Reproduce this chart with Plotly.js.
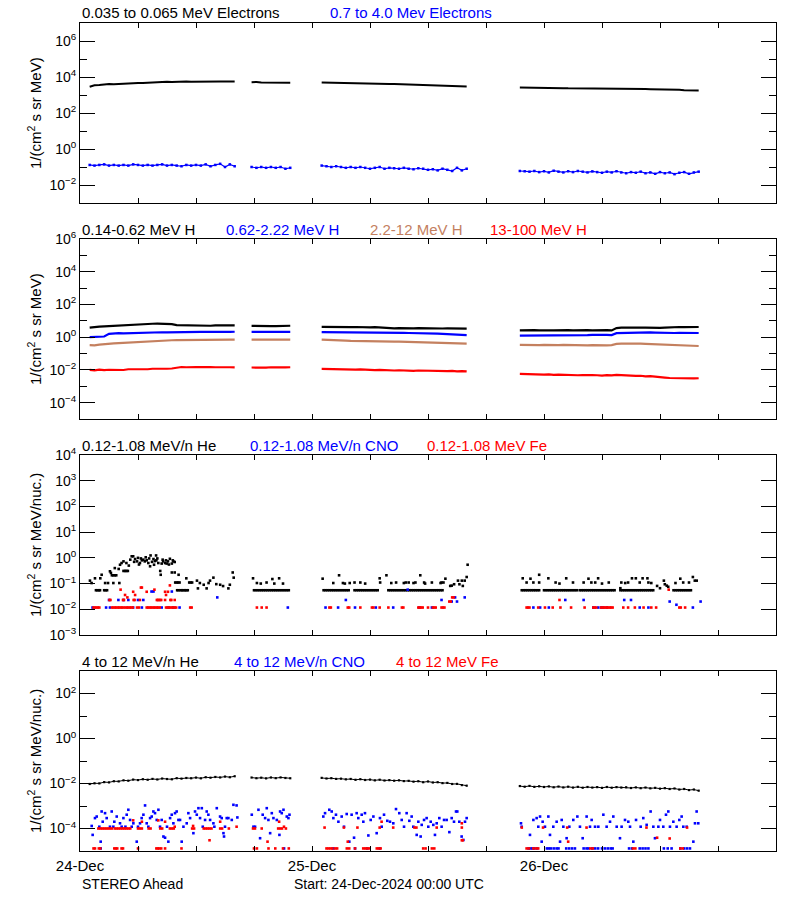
<!DOCTYPE html>
<html><head><meta charset="utf-8">
<script src="https://cdn.plot.ly/plotly-3.0.1.min.js"></script>
<style>html,body{margin:0;padding:0;background:#fff}#chart{width:800px;height:900px}</style>
</head><body><div id="chart"></div>
<script>
// ---------- DATA ----------
// hours since 24-Dec-2024 00:00 UTC (gap entries carry null values)
const hours = [1,1.5,2,2.5,3,3.5,4,4.5,5,5.5,6,6.5,7,7.5,8,8.5,9,9.5,10,10.5,11,11.5,12,12.5,13,13.5,14,14.5,15,15.5,16,
 17,
 17.75,18.25,18.75,19.25,19.75,20.25,20.75,21.25,21.75,
 23,
 25,25.5,26,26.5,27,27.5,28,28.5,29,29.5,30,30.5,31,31.5,32,32.5,33,33.5,34,34.5,35,35.5,36,36.5,37,37.5,38,38.5,39,39.5,40,
 43,
 45.5,46,46.5,47,47.5,48,48.5,49,49.5,50,50.5,51,51.5,52,52.5,53,53.5,54,54.5,55,55.5,56,56.5,57,57.5,58,58.5,59,59.5,60,60.5,61,61.5,62,62.5,63,63.5,64];

// Panel 1: electrons
const eLow = [2900,3500,3600,4000,4100,4000,4200,4300,4500,4600,4700,4600,4800,5000,5200,5300,5400,5300,5500,5400,5600,5500,5600,5700,5600,5700,5600,5700,5600,5700,5600,
 null,
 5100,5300,5000,4900,4900,4800,4800,4900,4800,
 null,
 5000,4900,4800,4900,4700,4600,4500,4500,4400,4300,4300,4200,4200,4100,4100,4100,4000,4000,3900,3800,3700,3500,3500,3400,3400,3300,3300,3200,3200,3100,3000,
 null,
 2600,2600,2550,2550,2500,2500,2450,2450,2400,2400,2350,2350,2300,2300,2300,2250,2250,2250,2200,2200,2250,2200,2200,2150,2150,2150,2150,2100,2100,2100,2050,2000,2000,1950,1850,1800,1800,1800];
const eHigh = [0.13,0.12,0.13,0.14,0.12,0.13,0.12,0.13,0.12,0.14,0.13,0.12,0.13,0.12,0.13,0.14,0.12,0.13,0.12,0.11,0.13,0.12,0.13,0.12,0.14,0.11,0.13,0.15,0.10,0.14,0.11,
 null,
 0.10,0.09,0.10,0.09,0.10,0.09,0.10,0.08,0.09,
 null,
 0.12,0.11,0.10,0.11,0.10,0.09,0.10,0.09,0.10,0.09,0.08,0.09,0.10,0.08,0.09,0.085,0.08,0.09,0.08,0.075,0.085,0.08,0.07,0.075,0.065,0.08,0.07,0.06,0.09,0.065,0.08,
 null,
 0.06,0.058,0.055,0.06,0.052,0.058,0.05,0.062,0.055,0.05,0.058,0.052,0.06,0.055,0.05,0.057,0.052,0.048,0.055,0.05,0.058,0.05,0.045,0.052,0.048,0.055,0.045,0.05,0.042,0.052,0.045,0.05,0.04,0.048,0.052,0.042,0.05,0.055];

// Panel 2: protons
const hLow = [3.8,3.9,4.4,4.6,4.8,5.0,5.3,5.5,5.4,5.7,5.8,6.2,6.5,6.6,6.7,6.5,6.4,6.2,5.4,5.3,5.2,5.3,5.2,5.1,5.2,5.0,5.3,5.2,5.1,5.3,5.2,
 null,
 4.9,5.0,4.8,4.9,4.8,4.7,4.9,4.8,5.0,
 null,
 4.3,4.2,4.3,4.1,4.2,4.0,4.1,4.2,4.0,4.1,4.0,4.1,3.9,3.5,3.6,3.5,3.6,3.5,3.6,3.5,3.6,3.5,3.5,3.4,3.5,3.4,3.5,3.4,3.3,3.4,3.3,
 null,
 2.6,2.7,2.6,2.7,2.6,2.7,2.6,2.6,2.7,2.6,2.7,2.6,2.7,2.6,2.7,2.6,2.7,2.6,2.7,2.6,3.6,3.8,3.9,3.8,3.9,3.8,3.8,3.7,3.8,3.7,3.8,4.0,4.1,4.2,4.1,4.2,4.1,4.2];
const hMid = [1.0,1.0,1.05,1.1,1.6,1.7,1.75,1.7,1.75,1.8,1.75,1.8,1.85,1.9,1.95,2.0,1.95,2.0,2.05,2.0,2.05,2.1,2.05,2.1,2.1,2.05,2.1,2.15,2.1,2.1,2.15,
 null,
 2.1,2.15,2.1,2.1,2.15,2.1,2.1,2.15,2.1,
 null,
 2.05,2.05,2.0,2.05,2.0,2.0,1.95,2.0,1.95,1.95,1.9,1.95,1.9,1.9,1.85,1.9,1.85,1.85,1.8,1.8,1.75,1.8,1.75,1.7,1.65,1.6,1.55,1.5,1.45,1.4,1.35,
 null,
 1.25,1.25,1.3,1.25,1.3,1.3,1.25,1.3,1.3,1.35,1.3,1.35,1.3,1.35,1.35,1.4,1.35,1.4,1.4,1.35,1.75,1.8,1.85,1.9,1.9,1.95,1.9,1.95,1.9,1.85,1.9,1.85,1.8,1.85,1.8,1.8,1.85,1.8];
const hHigh = [0.33,0.32,0.35,0.38,0.40,0.42,0.43,0.45,0.46,0.48,0.50,0.52,0.55,0.58,0.60,0.62,0.64,0.65,0.66,0.67,0.68,0.68,0.69,0.68,0.69,0.70,0.69,0.70,0.69,0.70,0.70,
 null,
 0.70,0.71,0.70,0.72,0.70,0.71,0.70,0.71,0.70,
 null,
 0.71,0.70,0.71,0.70,0.68,0.62,0.60,0.60,0.59,0.60,0.58,0.59,0.58,0.57,0.55,0.54,0.53,0.52,0.52,0.51,0.50,0.49,0.48,0.47,0.46,0.45,0.44,0.43,0.42,0.41,0.40,
 null,
 0.34,0.33,0.34,0.33,0.33,0.34,0.33,0.32,0.33,0.34,0.33,0.32,0.33,0.33,0.32,0.33,0.32,0.33,0.32,0.33,0.39,0.40,0.41,0.40,0.41,0.40,0.39,0.38,0.37,0.36,0.35,0.33,0.31,0.30,0.30,0.29,0.30,0.29];
const hTop = [0.0100,0.0095,0.0105,0.0098,0.0102,0.0100,0.0104,0.0099,0.0110,0.0108,0.0112,0.0115,0.0110,0.0118,0.0115,0.0120,0.0118,0.0122,0.0135,0.0150,0.0145,0.0155,0.0150,0.0148,0.0155,0.0150,0.0145,0.0150,0.0140,0.0145,0.0142,
 null,
 0.0140,0.0135,0.0142,0.0138,0.0145,0.0140,0.0138,0.0142,0.0145,
 null,
 0.0115,0.0112,0.0110,0.0112,0.0108,0.0110,0.0108,0.0105,0.0108,0.0102,0.0100,0.0098,0.0100,0.0095,0.0098,0.0092,0.0095,0.0090,0.0093,0.0088,0.0092,0.0090,0.0088,0.0085,0.0090,0.0086,0.0084,0.0088,0.0082,0.0085,0.0082,
 null,
 0.0058,0.0056,0.0055,0.0057,0.0054,0.0052,0.0054,0.0050,0.0052,0.0050,0.0048,0.0050,0.0047,0.0049,0.0046,0.0048,0.0047,0.0045,0.0048,0.0046,0.0050,0.0047,0.0045,0.0046,0.0043,0.0044,0.0040,0.0042,0.0038,0.0036,0.0034,0.0032,0.0031,0.0030,0.0032,0.0029,0.0030,0.0031];

// Panel 3: 0.12-1.08 MeV/n ions, [hour, value] pairs
const heLow = [[1.03,0.13],[1.2,0.105],[1.55,0.16],[1.65,0.055],[1.8,0.055],[1.95,0.055],[2.07,0.055],[2.1,0.16],[2.24,0.22],[2.5,0.055],[2.6,0.105],[2.65,0.055],[2.8,0.055],[2.9,0.105],
 [3.1,0.3],[3.2,0.26],[3.3,0.21],[3.45,0.21],[3.45,0.105],[3.6,0.21],[3.6,0.4],[3.75,0.21],[4.0,0.37],[4.07,0.105],[4.14,0.54],[4.3,0.63],[4.5,0.73],[4.5,0.31],[4.66,0.31],[4.8,0.31],[4.8,0.63],[4.95,0.31],
 [5.05,0.5],[5.2,0.85],[5.35,1.15],[5.5,1.15],[5.6,0.7],[5.7,0.9],[5.9,0.73],[6.0,1.0],[6.1,0.55],[6.2,0.63],[6.3,0.95],[6.4,0.8],[6.55,0.85],[6.7,0.73],[6.8,1.05],[6.9,0.8],
 [7.07,0.63],[7.15,0.95],[7.25,0.47],[7.3,1.24],[7.45,0.7],[7.6,0.9],[7.66,0.54],[7.75,0.75],[7.87,1.24],[7.9,0.8],[8.0,0.95],[8.1,0.63],[8.3,0.31],[8.35,0.22],[8.45,0.6],[8.55,0.85],[8.6,0.73],[8.8,0.63],[8.9,0.8],[8.97,0.6],
 [9.1,0.73],[9.2,0.55],[9.3,0.92],[9.5,0.6],[9.5,0.27],[9.6,0.8],[9.66,0.73],[9.8,0.69],[9.8,0.27],[9.85,0.11],[10.0,0.11],[10.15,0.11],[10.2,0.22],[10.3,0.11],
 [10.05,0.055],[10.2,0.055],[10.4,0.055],[10.55,0.055],[10.7,0.055],[10.85,0.055],[11.0,0.16],[11.0,0.055],[11.15,0.055],[11.3,0.11],[11.45,0.11],[11.6,0.11],
 [12.1,0.13],[12.2,0.065],[12.4,0.105],[12.8,0.09],[13.1,0.065],[13.3,0.105],[13.45,0.13],[13.8,0.17],[14.1,0.095],[14.5,0.09],[14.8,0.08],[15.35,0.065],[15.5,0.09],[15.8,0.27],[15.9,0.17],
 [17.9,0.16],[18.0,0.055],[18.2,0.055],[18.3,0.105],[18.4,0.055],[18.6,0.055],[18.7,0.1],[18.8,0.055],[19.0,0.055],[19.2,0.055],[19.3,0.11],[19.4,0.055],[19.6,0.055],[19.8,0.055],[19.9,0.15],
 [20.0,0.055],[20.1,0.1],[20.2,0.055],[20.4,0.055],[20.6,0.16],[20.6,0.055],[20.8,0.055],[21.0,0.1],[21.0,0.055],[21.2,0.055],[21.4,0.055],[21.6,0.055],
 [25.2,0.055],[25.4,0.055],[25.6,0.055],[25.8,0.055],[26.0,0.055],[26.2,0.055],[26.4,0.055],[26.6,0.055],[26.8,0.055],[27.0,0.055],[27.2,0.055],[27.4,0.055],[27.6,0.055],[27.8,0.055],
 [28.4,0.055],[28.6,0.055],[28.8,0.055],[29.0,0.055],[29.2,0.055],[29.4,0.055],[29.6,0.055],[29.8,0.055],[30.0,0.055],[30.2,0.055],[30.4,0.055],[30.6,0.055],[30.8,0.055],
 [31.9,0.055],[32.1,0.055],[32.3,0.055],[32.5,0.055],[32.7,0.055],[32.9,0.055],[33.1,0.055],[33.3,0.055],[33.5,0.055],[33.7,0.055],[33.9,0.055],[34.1,0.055],[34.3,0.055],[34.5,0.055],[34.7,0.055],[34.9,0.055],
 [35.1,0.055],[35.3,0.055],[35.5,0.055],[35.7,0.055],[35.9,0.055],[36.1,0.055],[36.3,0.055],[36.5,0.055],[36.7,0.055],[36.9,0.055],[37.1,0.055],[37.3,0.055],[37.5,0.055],
 [25.1,0.155],[26.2,0.105],[26.8,0.21],[27.2,0.105],[27.4,0.1],[27.9,0.105],[28.4,0.11],[29.0,0.11],[29.5,0.1],[31.0,0.16],[31.05,0.11],[31.7,0.21],[32.2,0.105],[32.7,0.11],[33.5,0.105],[33.7,0.11],[34.0,0.11],
 [34.5,0.105],[34.7,0.11],[35.2,0.21],[35.6,0.11],[35.7,0.1],[36.4,0.11],[37.3,0.105],[37.4,0.11],[37.6,0.11],[37.8,0.155],[38.3,0.081],[38.45,0.083],[38.7,0.094],[39.1,0.13],[39.25,0.094],[39.5,0.13],[39.6,0.081],[39.8,0.13],[40.0,0.18],[40.1,0.54],
 [45.7,0.055],[45.9,0.055],[46.1,0.055],[46.3,0.055],[46.5,0.055],[46.7,0.055],[46.9,0.055],[47.1,0.055],[47.3,0.055],[47.5,0.055],[48.0,0.055],[48.2,0.055],[48.4,0.055],[48.6,0.055],[48.8,0.055],[49.0,0.055],[49.2,0.055],[49.4,0.055],[49.6,0.055],[49.8,0.055],
 [50.0,0.055],[50.2,0.055],[50.4,0.055],[50.6,0.055],[50.8,0.055],[51.0,0.055],[51.2,0.055],[51.4,0.055],[51.7,0.055],[51.9,0.055],[52.1,0.055],[52.3,0.055],[52.5,0.055],[52.7,0.055],[52.9,0.055],[53.1,0.055],[53.3,0.055],[53.5,0.055],[53.7,0.055],[53.9,0.055],
 [54.1,0.055],[54.3,0.055],[54.5,0.055],[54.7,0.055],[54.9,0.055],[55.1,0.055],[55.3,0.055],[55.9,0.055],[56.1,0.055],[56.3,0.055],[56.5,0.055],[56.7,0.055],[56.9,0.055],[57.1,0.055],[57.3,0.055],[57.5,0.055],[57.7,0.055],[57.9,0.055],
 [58.1,0.055],[58.3,0.055],[58.5,0.055],[58.7,0.055],[58.9,0.055],[59.1,0.055],[59.3,0.055],[61.4,0.055],[61.6,0.055],[61.8,0.055],[62.0,0.055],[62.2,0.055],[62.4,0.055],[62.6,0.055],[62.8,0.055],[63.0,0.055],[63.2,0.055],
 [45.8,0.16],[46.2,0.11],[46.6,0.155],[46.9,0.11],[47.5,0.22],[47.5,0.11],[48.45,0.16],[49.2,0.11],[49.6,0.1],[50.3,0.16],[51.0,0.11],[52.1,0.11],[52.6,0.155],[52.9,0.11],[53.3,0.11],[53.6,0.16],[54.0,0.1],[54.7,0.11],
 [55.9,0.066],[56.0,0.11],[56.4,0.105],[56.7,0.11],[57.1,0.16],[57.5,0.16],[57.9,0.11],[58.2,0.16],[58.7,0.16],[58.8,0.11],[59.1,0.105],[59.7,0.081],[60.0,0.066],[60.4,0.13],[60.5,0.094],[60.7,0.083],[60.85,0.075],
 [61.6,0.105],[62.1,0.155],[62.4,0.11],[63.0,0.11],[63.4,0.18],[63.6,0.13],[63.8,0.13]];
const cnoLow = [[1.3,0.0117],[2.7,0.0117],[3.0,0.023],[3.1,0.0117],[3.97,0.023],[4.5,0.023],[5.0,0.023],[5.5,0.0117],[6.0,0.023],[6.4,0.0117],[6.55,0.023],[7.4,0.049],[7.6,0.049],[8.45,0.0117],[9.15,0.0117],[9.5,0.049],[9.66,0.0117],[10.3,0.0117],[14.2,0.029],[21.5,0.0117],
 [25.4,0.0117],[26.7,0.0117],[27.5,0.023],[28.45,0.0117],[30.6,0.0117],[32.4,0.0117],[33.9,0.058],[35.1,0.0117],[36.4,0.0117],[37.4,0.023],[38.45,0.02],[38.8,0.029],[39.0,0.02],[39.8,0.029],
 [46.9,0.0117],[47.6,0.0117],[48.5,0.0117],[50.2,0.023],[52.1,0.023],[53.1,0.0117],[53.6,0.0117],[53.9,0.0117],[54.1,0.0117],[54.5,0.0117],[56.3,0.023],[57.0,0.023],[57.9,0.0117],[58.8,0.0117],[61.0,0.02],[61.7,0.015],[63.4,0.0117],[64.2,0.02]];
const feLow = [[1.4,0.0117],[1.55,0.0117],[1.7,0.0117],[1.85,0.0117],[2.0,0.0117],[3.3,0.0117],[3.45,0.0117],[3.6,0.0117],[3.75,0.0117],[3.9,0.0117],[4.05,0.0117],[4.2,0.0117],[4.35,0.0117],[4.5,0.0117],
 [4.7,0.0117],[4.85,0.0117],[5.0,0.0117],[5.15,0.0117],[5.3,0.0117],[5.45,0.0117],[5.9,0.0117],[6.1,0.0117],[6.9,0.0117],[7.05,0.0117],[7.2,0.0117],[7.35,0.0117],[7.5,0.0117],[7.65,0.0117],[7.8,0.0117],[7.95,0.0117],[8.1,0.0117],[8.25,0.0117],
 [8.9,0.0117],[9.05,0.0117],[9.2,0.0117],[9.35,0.0117],[9.5,0.0117],[9.65,0.0117],[9.8,0.0117],[9.95,0.0117],[11.4,0.0117],[11.55,0.0117],[18.3,0.0117],[18.8,0.0117],[19.3,0.0117],
 [3.05,0.023],[3.15,0.023],[4.45,0.023],[4.55,0.023],[5.55,0.023],[5.65,0.023],[6.2,0.023],[7.95,0.023],[8.05,0.023],[8.15,0.023],[8.3,0.023],[8.4,0.023],[8.8,0.023],[9.35,0.023],[9.45,0.023],[9.8,0.023],
 [4.66,0.036],[5.7,0.036],[8.9,0.036],[4.9,0.029],[5.5,0.048],[6.9,0.048],[8.8,0.048],[9.1,0.048],[4.2,0.058],[7.7,0.058],[6.3,0.07],[6.4,0.07],[9.3,0.085],
 [25.8,0.0117],[25.95,0.0117],[27.7,0.0117],[27.85,0.0117],[29.0,0.0117],[30.2,0.0117],[30.35,0.0117],[31.0,0.0117],[31.9,0.0117],[33.3,0.0117],[33.45,0.0117],[35.0,0.0117],[35.15,0.0117],[35.3,0.0117],[35.45,0.0117],
 [36.0,0.0117],[36.5,0.0117],[36.65,0.0117],[36.8,0.0117],[37.4,0.0117],[37.55,0.0117],[37.7,0.0117],[38.2,0.02],[38.35,0.02],[38.5,0.029],[38.65,0.029],
 [46.2,0.0117],[46.35,0.0117],[46.5,0.0117],[47.4,0.0117],[48.1,0.0117],[48.9,0.0117],[49.7,0.0117],[50.8,0.0117],[52.2,0.0117],[53.1,0.0117],[53.25,0.0117],[53.4,0.0117],[53.9,0.0117],[54.05,0.0117],[54.2,0.0117],
 [54.35,0.0117],[54.5,0.0117],[54.65,0.0117],[54.8,0.0117],[54.95,0.0117],[55.1,0.0117],[56.2,0.0117],[56.7,0.0117],[57.4,0.0117],[58.3,0.0117],[59.1,0.0117],[59.6,0.0117],[62.0,0.0117],[62.15,0.0117],[62.6,0.0117],
 [49.6,0.023],[60.9,0.058]];

// Panel 4: 4-12 MeV/n ions
const heHigh = [0.0095,0.0102,0.0101,0.0115,0.0112,0.0126,0.0124,0.0138,0.0133,0.0149,0.0142,0.0155,0.0147,0.0160,0.0151,0.0166,0.0158,0.0154,0.0172,0.0165,0.0176,0.0171,0.0183,0.0170,0.0190,0.0181,0.0195,0.0186,0.0203,0.0190,0.0210,
 null,
 0.0184,0.0172,0.0181,0.0169,0.0185,0.0173,0.0186,0.0176,0.0171,
 null,
 0.0178,0.0167,0.0172,0.0160,0.0164,0.0153,0.0159,0.0146,0.0155,0.0143,0.0149,0.0138,0.0147,0.0136,0.0141,0.0133,0.0138,0.0128,0.0131,0.0121,0.0126,0.0114,0.0123,0.0111,0.0114,0.0104,0.0106,0.0095,0.0096,0.0085,0.0080,
 null,
 0.0077,0.0072,0.0078,0.0071,0.0075,0.0070,0.0074,0.0068,0.0073,0.0067,0.0072,0.0066,0.0071,0.0065,0.0070,0.0066,0.0069,0.0064,0.0070,0.0065,0.0069,0.0066,0.0068,0.0063,0.0067,0.0062,0.0066,0.0061,0.0064,0.0059,0.0062,0.0057,0.0060,0.0054,0.0057,0.0051,0.0054,0.0048];
const cnoHigh = [[1.21,1.3e-4],[1.31,5.2e-5],[1.55,2.9e-4],[1.73,3.4e-4],[2.0,1.2e-4],[2.14,2.6e-5],[2.14,1.3e-5],[2.24,5.7e-4],[2.35,2.0e-4],[2.59,4.8e-4],[2.76,2.9e-4],[3.1,1.2e-4],[3.28,5.7e-4],[3.45,1.2e-4],[3.55,2.0e-4],[3.8,3.4e-4],
 [4.14,1.7e-4],[4.31,1.2e-4],[4.49,2.9e-4],[4.7,1.2e-4],[4.83,4.1e-4],[5.0,6.8e-4],[5.18,2.4e-4],[5.35,1.2e-4],[5.52,1.7e-4],[5.87,2.6e-5],[6.0,1.2e-4],[6.21,1.7e-4],[6.38,2.9e-4],[6.56,4.1e-4],[6.73,1.06e-3],[6.9,1.7e-4],
 [7.07,1.2e-4],[7.25,2.9e-4],[7.42,3.4e-4],[7.59,5.7e-4],[7.76,4.8e-4],[7.94,2.4e-4],[8.11,6.8e-4],[8.28,1.2e-4],[8.45,2.4e-4],[8.63,4.4e-5],[8.8,3.9e-5],[9.0,1.2e-4],[9.14,2.6e-5],[9.32,2.9e-4],[9.49,4.1e-4],[9.66,1.7e-4],[9.83,4.8e-4],
 [10.0,5.7e-4],[10.18,2.4e-4],[10.35,2.4e-4],[10.52,2.6e-5],[10.7,1.2e-4],[11.04,1.7e-4],[11.21,4.8e-4],[11.39,2.9e-4],[11.73,6.2e-5],[11.9,5.7e-4],[12.08,4.1e-4],[12.25,8.0e-4],[12.42,2.9e-4],[12.6,8.0e-4],[12.7,1.2e-4],[12.94,2.4e-4],
 [13.11,5.7e-4],[13.28,4.1e-4],[13.46,2.4e-4],[13.8,1.7e-4],[13.9,1.2e-4],[14.15,8.0e-4],[14.49,3.4e-4],[14.66,2.9e-4],[14.84,6.2e-5],[14.9,4.4e-5],[15.0,1.2e-4],[15.18,2.9e-4],[15.35,2.9e-4],[15.7,2.4e-4],[15.87,1.13e-3],[16.2,1.06e-3],[16.28,3.1e-4],
 [17.77,4.1e-4],[17.94,1.2e-4],[18.11,1.2e-4],[18.46,6.8e-4],[18.63,3.7e-5],[18.9,4.1e-4],[19.15,2.9e-4],[19.32,8.0e-4],[19.49,2.4e-4],[19.67,6.2e-5],[19.84,4.8e-4],[20.01,2.9e-4],[20.36,2.4e-4],[20.63,5.2e-5],[20.7,5.7e-4],[20.87,4.8e-4],
 [21.05,6.8e-4],[21.11,1.3e-5],[21.39,3.4e-4],[21.56,2.9e-4],[21.67,4.1e-4],
 [25.17,3.4e-4],[25.35,4.8e-4],[25.79,6.8e-4],[26.04,5.7e-4],[26.21,2.9e-4],[26.21,1.3e-5],[26.48,4.1e-4],[26.73,2.0e-4],[27.07,3.4e-4],[27.31,1.2e-4],[27.59,4.4e-4],[27.86,2.6e-5],[28.1,4.1e-4],[28.35,3.9e-5],[28.45,1.3e-5],[28.62,4.8e-4],
 [28.79,2.9e-4],[29.14,4.1e-4],[29.31,2.0e-4],[29.48,4.8e-4],[29.7,1.3e-5],[29.83,4.9e-5],[30.07,2.4e-4],[30.35,3.4e-4],[30.69,6.2e-5],[31.0,1.3e-5],[31.03,2.9e-4],[31.21,1.2e-4],[31.45,4.1e-4],[31.79,2.2e-4],[32.07,2.0e-4],[32.41,1.7e-4],
 [32.69,7.3e-4],[33.03,4.8e-4],[33.28,2.4e-4],[33.52,1.2e-4],[33.79,4.8e-4],[34.07,2.2e-4],[34.31,3.4e-4],[34.48,1.2e-4],[34.83,5.2e-5],[35.0,2.0e-4],[35.24,4.4e-5],[35.35,1.45e-4],[35.59,2.4e-4],[35.86,2.9e-4],[36.03,1.2e-4],[36.28,2.0e-4],
 [36.55,1.45e-4],[36.72,5.2e-5],[36.9,1.7e-4],[37.17,2.9e-4],[37.41,1.2e-4],[37.66,2.4e-4],[37.93,2.4e-4],[38.21,6.9e-5],[38.45,2.9e-4],[38.69,2.0e-4],[38.9,5.7e-4],[39.03,5.7e-4],[39.24,2.0e-4],[39.48,4.4e-5],[39.66,3.1e-5],[39.83,2.0e-4],[40.0,2.9e-4],
 [45.62,1.7e-4],[45.69,1.2e-4],[46.55,5.2e-5],[46.9,2.4e-4],[47.24,2.9e-4],[47.41,1.2e-4],[47.59,3.4e-4],[47.76,2.6e-5],[47.86,2.0e-4],[48.1,1.2e-4],[48.45,3.4e-4],[48.62,5.2e-5],[48.96,1.2e-4],[49.31,2.0e-4],[49.66,2.6e-5],[49.83,2.4e-4],
 [50.0,1.2e-4],[50.34,3.7e-5],[50.62,1.2e-4],[51.03,2.4e-4],[51.45,3.4e-4],[51.72,1.2e-4],[52.0,3.7e-5],[52.41,3.4e-4],[52.76,1.2e-4],[52.93,2.4e-4],[53.28,1.2e-4],[53.62,1.2e-4],[54.14,4.1e-4],[54.48,1.2e-4],[54.83,2.0e-4],[55.17,3.4e-4],
 [55.52,1.2e-4],[55.86,3.7e-5],[56.03,1.2e-4],[56.38,2.4e-4],[56.72,2.0e-4],[56.9,1.2e-4],[57.24,2.6e-5],[57.52,2.4e-4],[58.0,1.2e-4],[58.27,2.9e-4],[58.62,1.45e-4],[59.03,5.7e-4],[59.31,1.2e-4],[59.48,3.7e-5],[59.83,1.2e-4],[60.0,2.4e-4],
 [60.34,1.2e-4],[60.62,4.1e-4],[60.86,5.7e-4],[61.03,1.2e-4],[61.38,2.0e-4],[61.72,1.2e-4],[62.0,2.4e-4],[62.24,3.4e-4],[62.41,1.2e-4],[62.76,1.2e-4],[63.45,2.6e-5],[63.62,1.7e-4],[63.79,5.7e-4],[63.96,1.7e-4],
 [46.4,1.3e-5],[46.6,1.3e-5],[46.8,1.3e-5],[47.0,1.3e-5],[47.3,1.3e-5],[48.3,1.3e-5],[48.5,1.3e-5],[48.7,1.3e-5],[49.0,1.3e-5],[49.3,1.3e-5],[49.5,1.3e-5],[50.3,1.3e-5],[50.6,1.3e-5],[50.9,1.3e-5],[51.2,1.3e-5],[52.1,1.3e-5],[52.4,1.3e-5],
 [52.6,1.3e-5],[53.0,1.3e-5],[53.3,1.3e-5],[53.6,1.3e-5],[54.0,1.3e-5],[54.3,1.3e-5],[54.6,1.3e-5],[54.9,1.3e-5],[55.1,1.3e-5],[56.8,1.3e-5],[57.1,1.3e-5],[57.9,1.3e-5],[58.2,1.3e-5],[58.5,1.3e-5],[58.8,1.3e-5],[60.4,1.3e-5],[60.8,1.3e-5],
 [61.2,1.3e-5],[62.1,1.3e-5],[62.5,1.3e-5],[62.8,1.3e-5],[63.1,1.3e-5]];
const feHigh = [[1.4,1.3e-5],[1.55,1.3e-5],[1.95,1.3e-5],[2.1,1.3e-5],[3.55,1.3e-5],[3.7,1.3e-5],[3.85,1.3e-5],[4.3,1.3e-5],[4.45,1.3e-5],[6.0,1.3e-5],[7.9,1.3e-5],[8.05,1.3e-5],[8.2,1.3e-5],[8.4,1.3e-5],[8.8,1.3e-5],[10.5,1.3e-5],
 [18.0,1.3e-5],[18.3,1.3e-5],[19.5,1.3e-5],[20.2,1.3e-5],[21.0,1.3e-5],[21.6,1.3e-5],
 [25.5,1.3e-5],[25.7,1.3e-5],[25.9,1.3e-5],[26.1,1.3e-5],[26.4,1.3e-5],[26.6,1.3e-5],[27.6,1.3e-5],[27.85,1.3e-5],[28.45,1.3e-5],[29.3,1.3e-5],[29.5,1.3e-5],[29.7,1.3e-5],[29.9,1.3e-5],[30.7,1.3e-5],[30.9,1.3e-5],[31.1,1.3e-5],
 [35.5,1.3e-5],[35.75,1.3e-5],[36.4,1.3e-5],[36.65,1.3e-5],
 [46.2,1.3e-5],[46.45,1.3e-5],[46.9,1.3e-5],[47.15,1.3e-5],[47.4,1.3e-5],[52.8,1.3e-5],[53.05,1.3e-5],[57.2,1.3e-5],[57.45,1.3e-5],[62.1,1.3e-5],[62.35,1.3e-5],
 [1.9,1.0e-4],[2.1,1.0e-4],[2.3,1.0e-4],[2.5,1.0e-4],[2.7,1.0e-4],[2.9,1.0e-4],[3.1,1.0e-4],[3.3,1.0e-4],[3.6,1.0e-4],[3.8,1.0e-4],[4.0,1.0e-4],[4.2,1.0e-4],[4.4,1.0e-4],[4.6,1.0e-4],[4.8,1.0e-4],[5.0,1.0e-4],[5.2,1.0e-4],
 [6.0,1.0e-4],[6.2,1.0e-4],[6.4,1.0e-4],[7.1,1.0e-4],[7.3,1.0e-4],[8.3,1.0e-4],[8.5,1.0e-4],[9.3,1.0e-4],[9.5,1.0e-4],[9.7,1.0e-4],[11.6,1.0e-4],[11.8,1.0e-4],[12.8,1.0e-4],[13.0,1.0e-4],[13.2,1.0e-4],[13.4,1.0e-4],[13.6,1.0e-4],
 [14.5,1.0e-4],[14.7,1.0e-4],[15.4,1.0e-4],[17.9,1.0e-4],[18.1,1.0e-4],[18.8,1.0e-4],[20.5,1.0e-4],[20.7,1.0e-4],[20.9,1.0e-4],[21.3,1.0e-4],
 [25.3,1.1e-4],[27.3,1.1e-4],[28.7,1.1e-4],[31.0,1.1e-4],[32.4,1.1e-4],[34.6,1.1e-4],[34.8,1.1e-4],[36.9,1.1e-4],[39.5,1.1e-4],
 [45.7,1.1e-4],[47.9,1.1e-4],[50.4,1.1e-4],[52.4,1.1e-4],[58.6,1.1e-4],[62.8,1.1e-4],
 [5.5,2.3e-4],[6.4,2.0e-4],[8.1,2.3e-4],[8.8,2.0e-4],[9.8,1.2e-4],[11.7,1.3e-4],[13.4,3.0e-5],[14.5,2.0e-4],[16.2,1.2e-4],[19.4,2.6e-5],[20.6,2.0e-4],[21.1,1.2e-4],
 [27.7,2.6e-5],[31.2,2.0e-4],[39.5,1.7e-4],[39.5,3.0e-5],[39.6,3.0e-5],[50.5,2.6e-5],[59.7,3.9e-5],[61.0,3.6e-5]];

// Labels
const panelLabels = [
  [['0.035 to 0.065 MeV Electrons','#000000'],['0.7 to 4.0 Mev Electrons','#0000ff']],
  [['0.14-0.62 MeV H','#000000'],['0.62-2.22 MeV H','#0000ff'],['2.2-12 MeV H','#c4805f'],['13-100 MeV H','#ff0000']],
  [['0.12-1.08 MeV/n He','#000000'],['0.12-1.08 MeV/n CNO','#0000ff'],['0.12-1.08 MeV Fe','#ff0000']],
  [['4 to 12 MeV/n He','#000000'],['4 to 12 MeV/n CNO','#0000ff'],['4 to 12 MeV Fe','#ff0000']]
];
const yTitles = ['1/(cm<sup>2</sup> s sr MeV)','1/(cm<sup>2</sup> s sr MeV)','1/(cm<sup>2</sup> s sr MeV/nuc.)','1/(cm<sup>2</sup> s sr MeV/nuc.)'];
const y1Ticks = [1e-2,1,1e2,1e4,1e6], y1Text = ['10<sup>−2</sup>','10<sup>0</sup>','10<sup>2</sup>','10<sup>4</sup>','10<sup>6</sup>'], y1Minor = [1e-1,1e1,1e3,1e5];
const y2Ticks = [1e-4,1e-2,1,1e2,1e4,1e6], y2Text = ['10<sup>−4</sup>','10<sup>−2</sup>','10<sup>0</sup>','10<sup>2</sup>','10<sup>4</sup>','10<sup>6</sup>'], y2Minor = [1e-3,1e-1,1e1,1e3,1e5];
const y3Ticks = [1e-3,1e-2,1e-1,1,1e1,1e2,1e3,1e4], y3Text = ['10<sup>−3</sup>','10<sup>−2</sup>','10<sup>−1</sup>','10<sup>0</sup>','10<sup>1</sup>','10<sup>2</sup>','10<sup>3</sup>','10<sup>4</sup>'];
const y4Ticks = [1e-4,1e-2,1,1e2], y4Text = ['10<sup>−4</sup>','10<sup>−2</sup>','10<sup>0</sup>','10<sup>2</sup>'], y4Minor = [1e-3,1e-1,1e1];
const footLeft = 'STEREO Ahead';
const footMid = 'Start: 24-Dec-2024 00:00 UTC';

// ---------- BUILD ----------
const T0 = Date.UTC(2024, 11, 24);
const HOUR = 3600000;
const toMs = h => T0 + h * HOUR;
const FONT = 'Liberation Sans, Arial, sans-serif';
const FS = 15;

function lineTr(vals, color, n, width, msize) {
  return {type:'scatter', x: hours.map(toMs), y: vals, mode: msize ? 'lines+markers' : 'lines',
    line:{color, width}, marker:{color, size: msize || 0, symbol:'square'}, connectgaps:false,
    xaxis: n===1?'x':'x'+n, yaxis: n===1?'y':'y'+n, hoverinfo:'skip', showlegend:false};
}
function ptsTr(pairs, color, n) {
  return {type:'scatter', x: pairs.map(p => toMs(p[0])), y: pairs.map(p => p[1]), mode:'markers',
    marker:{color, size:2.6, symbol:'square', line:{width:0}},
    xaxis:'x'+n, yaxis:'y'+n, hoverinfo:'skip', showlegend:false};
}

const traces = [
  lineTr(eLow, '#000000', 1, 2),
  lineTr(eHigh, '#0000ff', 1, 1.2, 2.5),
  lineTr(hLow, '#000000', 2, 2.2),
  lineTr(hMid, '#0000ff', 2, 2.2),
  lineTr(hHigh, '#c4805f', 2, 2.2),
  lineTr(hTop, '#ff0000', 2, 2.2),
  ptsTr(heLow, '#000000', 3),
  ptsTr(cnoLow, '#0000ff', 3),
  ptsTr(feLow, '#ff0000', 3),
  lineTr(heHigh, '#000000', 4, 1, 2.2),
  ptsTr(cnoHigh, '#0000ff', 4),
  ptsTr(feHigh, '#ff0000', 4)
];

const H = 828; // plot area height (px)
const doms = [[648/H, 1], [432/H, 612/H], [216/H, 396/H], [0, 180/H]];

function xAx(n) {
  return {type:'date', domain:[0,1], anchor: n===1?'y':'y'+n, range:[T0, T0 + 72*HOUR],
    tickmode:'linear', tick0:T0, dtick:24*HOUR, tickformat:'%d-%b',
    ticks:'inside', ticklen:5, tickwidth:1, tickcolor:'#000', mirror:'allticks',
    showline:true, linecolor:'#000', linewidth:1, showgrid:false, zeroline:false,
    showticklabels: n===4, tickfont:{family:FONT, size:FS, color:'#000'}, ticklabelstandoff:1,
    minor:{tickmode:'linear', tick0:T0, dtick:6*HOUR, ticks:'inside', ticklen:5, tickwidth:1, tickcolor:'#000', showgrid:false},
    fixedrange:true};
}
function yAx(n, range, tv, tt, mv) {
  const ax = {type:'log', domain:doms[n-1], anchor: n===1?'x':'x'+n, range,
    tickmode:'array', tickvals:tv, ticktext:tt,
    ticks:'inside', ticklen:15, tickwidth:1, tickcolor:'#000', mirror:'allticks',
    showline:true, linecolor:'#000', linewidth:1, showgrid:false, zeroline:false,
    tickfont:{family:FONT, size:14, color:'#000'}, ticklabelstandoff:0,
    fixedrange:true};
  if (mv) ax.minor = {tickmode:'array', tickvals:mv, ticks:'inside', ticklen:7, tickwidth:1, tickcolor:'#000', showgrid:false};
  return ax;
}

// annotations: panel labels, y-axis titles, footer
const labelX = [[0, 248/696], [0, 144/696, 288/696, 408/696], [0, 168/696, 345/696], [0, 152/696, 314/696]];
const labelY = [(851-13)/H, (851-229)/H, (851-445)/H, (851-661)/H];
const annotations = [];
panelLabels.forEach((row, i) => row.forEach((lab, j) => annotations.push({
  xref:'paper', yref:'paper', x:labelX[i][j], y:labelY[i], xanchor:'left', yanchor:'middle',
  text:lab[0], showarrow:false, font:{family:FONT, size:FS, color:lab[1]}
})));
yTitles.forEach((t, i) => annotations.push({
  xref:'paper', yref:'paper', x:-46/696, y:(doms[i][0]+doms[i][1])/2, xanchor:'center', yanchor:'middle',
  textangle:-90, text:t, showarrow:false, font:{family:FONT, size:FS, color:'#000'}
}));
annotations.push({xref:'paper', yref:'paper', x:0, y:(851-884)/H, xanchor:'left', yanchor:'middle', text:footLeft, showarrow:false, font:{family:FONT, size:14, color:'#000'}});
annotations.push({xref:'paper', yref:'paper', x:212/696, y:(851-884)/H, xanchor:'left', yanchor:'middle', text:footMid, showarrow:false, font:{family:FONT, size:14, color:'#000'}});

const layout = {
  width:800, height:900, margin:{l:80, r:24, t:23, b:49}, paper_bgcolor:'#fff', plot_bgcolor:'#fff',
  font:{family:FONT, size:FS, color:'#000'}, showlegend:false,
  xaxis:xAx(1), xaxis2:xAx(2), xaxis3:xAx(3), xaxis4:xAx(4),
  yaxis:yAx(1, [-3,7], y1Ticks, y1Text, y1Minor),
  yaxis2:yAx(2, [-5,6], y2Ticks, y2Text, y2Minor),
  yaxis3:yAx(3, [-3,4], y3Ticks, y3Text, null),
  yaxis4:yAx(4, [-5,3], y4Ticks, y4Text, y4Minor),
  annotations
};
Plotly.newPlot('chart', traces, layout, {staticPlot:true, displayModeBar:false});
</script>
</body></html>
